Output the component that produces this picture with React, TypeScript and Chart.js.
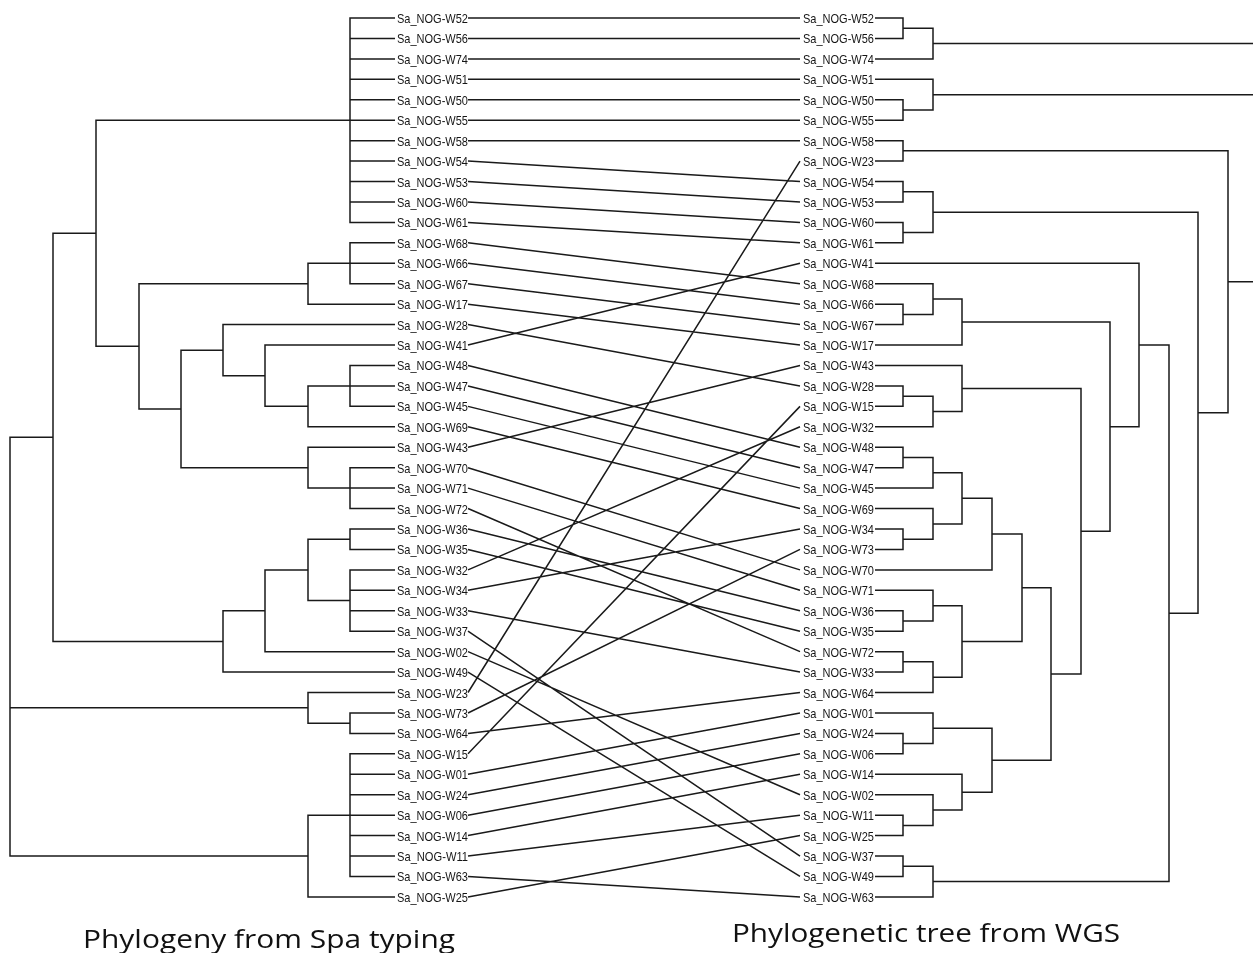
import { useEffect, useRef } from "react";
import { Chart, registerables } from "chart.js";
Chart.register(...registerables);

// ---- data ----
const leafPrefix = "Sa_NOG-";

const leftOrder = [
  "W52", "W56", "W74", "W51", "W50", "W55", "W58", "W54", "W53", "W60", "W61",
  "W68", "W66", "W67", "W17", "W28", "W41", "W48", "W47", "W45", "W69", "W43",
  "W70", "W71", "W72", "W36", "W35", "W32", "W34", "W33", "W37", "W02", "W49",
  "W23", "W73", "W64", "W15", "W01", "W24", "W06", "W14", "W11", "W63", "W25",
];

const rightOrder = [
  "W52", "W56", "W74", "W51", "W50", "W55", "W58", "W23", "W54", "W53", "W60",
  "W61", "W41", "W68", "W66", "W67", "W17", "W43", "W28", "W15", "W32", "W48",
  "W47", "W45", "W69", "W34", "W73", "W70", "W71", "W36", "W35", "W72", "W33",
  "W64", "W01", "W24", "W06", "W14", "W02", "W11", "W25", "W37", "W49", "W63",
];

// Left tree (Spa typing) clades; number after ")" = node position on x axis
const lP0 = "(W52,W56,W74,W51,W50,W55,W58,W54,W53,W60,W61)350";
const lN308a = "((W68,W66,W67)350,W17)308";
const lN223 = "(W28,(W41,((W48,W47,W45)350,W69)308)265)223";
const lN308c = "(W43,(W70,W71,W72)350)308";
const lA2 = "((((W36,W35)350,(W32,W34,W33,W37)350)308,W02)265,W49)223";
const lB = "(W23,(W73,W64)350)308";
const lC = "((W15,W01,W24,W06,W14,W11,W63)350,W25)308";
const lA1 = `(${lP0},(${lN308a},(${lN223},${lN308c})181)139)96`;
const leftTree = `((${lA1},${lA2})53,${lB},${lC})10`;

// Right tree (WGS) clades
const rA = "((W52,W56)903,W74)933";
const rB = "(W51,(W50,W55)903)933";
const rE = "((W54,W53)903,(W60,W61)903)933";
const rJ = "((W68,(W66,W67)903)933,W17)962";
const rL = "(W43,((W28,W15)903,W32)933)962";
const rP = "((((W48,W47)903,W45)933,(W69,(W34,W73)903)933)962,W70)992";
const rQ = "((W71,(W36,W35)903)933,((W72,W33)903,W64)933)962";
const rO = "((W01,(W24,W06)903)933,(W14,(W02,(W11,W25)903)933)962)992";
const rH = "((W37,W49)903,W63)933";
const rightTree = `(${rA},${rB},((W58,W23)903,(${rE},((W41,(${rJ},(${rL},((${rP},${rQ})1022,${rO})1051)1081)1110)1139,${rH})1169)1198)1228)1262`;

const leftLeafX = 395;
const rightLeafX = 875;
const leftLabelX = 397;
const rightLabelX = 803;
const labelWidth = 71;
const linkStartX = 468;
const linkEndX = 800;

const captions = ["Phylogeny from Spa typing", "Phylogenetic tree from WGS"];

// ---- layout ----
const W = 1253;
const H = 953;
const rowTop = 18;
const rowStep = 20.44;

type TNode = { name?: string; x: number; y: number; children?: TNode[] };

function parseNewick(s: string): TNode {
  let i = 0;
  function node(): TNode {
    if (s[i] === "(") {
      i++;
      const children: TNode[] = [];
      for (;;) {
        children.push(node());
        if (s[i] === ",") { i++; continue; }
        if (s[i] === ")") { i++; break; }
        throw new Error("bad newick at " + i);
      }
      let lab = "";
      while (i < s.length && /[0-9.]/.test(s[i])) lab += s[i++];
      return { children, x: parseFloat(lab), y: 0 };
    }
    let name = "";
    while (i < s.length && !/[(),]/.test(s[i])) name += s[i++];
    return { name, x: 0, y: 0 };
  }
  return node();
}

function treePoints(src: string, order: string[], leafX: number) {
  const root = parseNewick(src);
  const pts: { x: number; y: number | null }[] = [];
  const setY = (n: TNode) => {
    if (!n.children) {
      n.y = order.indexOf(n.name as string);
      n.x = leafX;
    } else {
      n.children.forEach(setY);
      n.y = (n.children[0].y + n.children[n.children.length - 1].y) / 2;
    }
  };
  setY(root);
  const walk = (n: TNode) => {
    if (!n.children) return;
    for (const c of n.children) {
      pts.push({ x: n.x, y: n.y }, { x: n.x, y: c.y }, { x: c.x, y: c.y }, { x: c.x, y: null });
      walk(c);
    }
  };
  walk(root);
  return pts;
}

function linkPoints() {
  const pts: { x: number; y: number | null }[] = [];
  leftOrder.forEach((n, i) => {
    const j = rightOrder.indexOf(n);
    pts.push({ x: linkStartX, y: i }, { x: linkEndX, y: j }, { x: linkEndX, y: null });
  });
  return pts;
}

const labelPlugin = {
  id: "leafLabels",
  afterDatasetsDraw(chart: any) {
    const { ctx, scales } = chart;
    const xs = scales.x;
    const ys = scales.y;
    ctx.save();
    ctx.fillStyle = "#151515";
    ctx.textBaseline = "alphabetic";
    ctx.textAlign = "left";
    ctx.font = '13px "Liberation Sans", Arial, sans-serif';
    leftOrder.forEach((n, i) => {
      ctx.fillText(leafPrefix + n, xs.getPixelForValue(leftLabelX), ys.getPixelForValue(i) + 5, labelWidth);
    });
    rightOrder.forEach((n, i) => {
      ctx.fillText(leafPrefix + n, xs.getPixelForValue(rightLabelX), ys.getPixelForValue(i) + 5, labelWidth);
    });
    // captions
    ctx.font = '26px "Open Sans", sans-serif';
    ctx.fillStyle = "#111";
    const caps = [
      { t: captions[0], x: 83, y: 948, w: 372 },
      { t: captions[1], x: 732, y: 942, w: 388 },
    ];
    for (const c of caps) {
      const mw = ctx.measureText(c.t).width;
      ctx.save();
      ctx.translate(c.x, c.y);
      ctx.scale(c.w / mw, 1);
      ctx.fillText(c.t, 0, 0);
      ctx.restore();
    }
    ctx.restore();
  },
};

export default function App() {
  const ref = useRef<HTMLCanvasElement | null>(null);
  useEffect(() => {
    document.body.style.margin = "0";
    let chart: Chart | null = null;
    let cancelled = false;
    const make = () => {
      if (cancelled || !ref.current) return;
      const lineStyle = {
        borderColor: "#1a1a1a",
        borderWidth: 1.5,
        pointRadius: 0,
        pointHoverRadius: 0,
        fill: false,
        tension: 0,
        spanGaps: false,
      };
      chart = new Chart(ref.current, {
        type: "line",
        data: {
          datasets: [
            { label: "Spa tree", data: treePoints(leftTree, leftOrder, leftLeafX) as any, ...lineStyle },
            { label: "WGS tree", data: treePoints(rightTree, rightOrder, rightLeafX) as any, ...lineStyle },
            { label: "links", data: linkPoints() as any, ...lineStyle },
          ],
        },
        options: {
          animation: false,
          responsive: false,
          devicePixelRatio: 1,
          layout: { padding: 0 },
          events: [],
          plugins: { legend: { display: false }, tooltip: { enabled: false } },
          scales: {
            x: { type: "linear", min: 0, max: W, display: false },
            y: {
              type: "linear",
              reverse: true,
              min: -rowTop / rowStep,
              max: (H - rowTop) / rowStep,
              display: false,
            },
          },
        },
        plugins: [labelPlugin],
      });
    };
    Promise.all([
      document.fonts.load('13px "Liberation Sans"'),
      document.fonts.load('26px "Open Sans"'),
    ]).then(make, make);
    return () => {
      cancelled = true;
      if (chart) chart.destroy();
    };
  }, []);
  return (
    <div style={{ width: W, height: H, background: "#fff" }}>
      <canvas ref={ref} width={W} height={H} style={{ display: "block" }} />
    </div>
  );
}
